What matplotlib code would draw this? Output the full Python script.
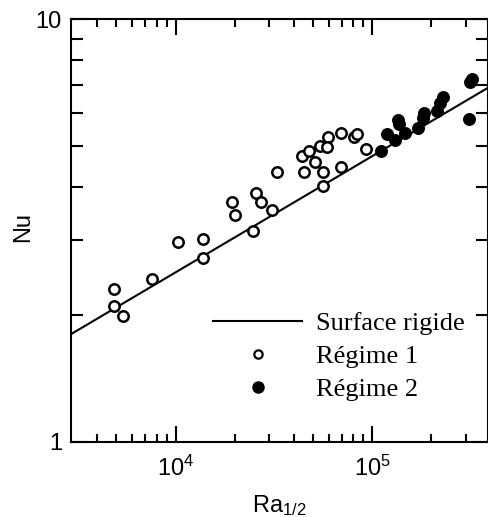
import matplotlib
matplotlib.use('Agg')
import matplotlib.pyplot as plt
import numpy as np
from matplotlib.ticker import FixedLocator, NullFormatter, LogFormatterMathtext
from matplotlib.lines import Line2D

plt.rcParams['font.family'] = ['Liberation Sans', 'DejaVu Sans']
plt.rcParams['mathtext.fontset'] = 'custom'
plt.rcParams['mathtext.rm'] = 'Liberation Sans'
plt.rcParams['mathtext.it'] = 'Liberation Sans:italic'
plt.rcParams['mathtext.bf'] = 'Liberation Sans:bold'

# Régime 1 (open circles)
ra_regime1 = [4870, 4870, 5400, 7600, 10300, 13700, 13700, 19400, 20000, 24800,
              25600, 27300, 30900, 32900, 43700, 47800, 54200, 59700, 58600, 51100,
              45100, 55900, 55900, 69300, 69300, 80700, 83900, 92900]
nu_regime1 = [2.30, 2.10, 1.98, 2.43, 2.97, 3.02, 2.72, 3.69, 3.44, 3.15,
              3.87, 3.69, 3.53, 4.34, 4.75, 4.88, 5.02, 5.26, 4.99, 4.59,
              4.36, 4.35, 4.03, 4.47, 5.39, 5.26, 5.34, 4.94]

# Régime 2 (filled circles)
ra_regime2 = [111400, 118400, 130500, 135600, 137500, 146700, 171800, 182200,
              184400, 213400, 222300, 230300, 312200, 315900, 321500]
nu_regime2 = [4.88, 5.34, 5.19, 5.79, 5.65, 5.39, 5.54, 5.84,
              6.00, 6.07, 6.33, 6.55, 5.81, 7.12, 7.22]

# Surface rigide: Nu = a * Ra^b
fit_a = 0.2
fit_b = 0.275

x_min, x_max = 2935, 3.88e5
y_min, y_max = 1, 10

x_major = [1e4, 1e5]
x_minor = [4000, 5000, 6000, 7000, 8000, 9000, 20000, 30000, 40000, 50000,
           60000, 70000, 80000, 90000, 200000, 300000]
y_major = [1, 10]
y_major_labels = ['1', '10']
y_minor = [2, 3, 4, 5, 6, 7, 8, 9]

W, H = 489, 517
fig = plt.figure(figsize=(W / 100, H / 100), dpi=100)
left, right, top, bottom = 71, 488, 19.3, 441.7
ax = fig.add_axes([left / W, 1 - bottom / H, (right - left) / W, (bottom - top) / H])
ax.set_xscale('log')
ax.set_yscale('log')
ax.set_xlim(x_min, x_max)
ax.set_ylim(y_min, y_max)

xx = np.logspace(np.log10(x_min), np.log10(x_max), 200)
ax.plot(xx, fit_a * xx ** fit_b, color='black', lw=1.5, zorder=2)
ax.plot(ra_regime1, nu_regime1, 'o', mfc='white', mec='black', ms=7.5, mew=1.8,
        ls='none', zorder=3)
ax.plot(ra_regime2, nu_regime2, 'o', mfc='black', mec='black', ms=8.5, mew=0.8,
        ls='none', zorder=4)

for s in ax.spines.values():
    s.set_linewidth(1.5)

ax.xaxis.set_major_locator(FixedLocator(x_major))
ax.xaxis.set_minor_locator(FixedLocator(x_minor))
ax.xaxis.set_major_formatter(LogFormatterMathtext())
ax.xaxis.set_minor_formatter(NullFormatter())
ax.yaxis.set_major_locator(FixedLocator(y_major))
ax.yaxis.set_minor_locator(FixedLocator(y_minor))
ax.set_yticklabels(y_major_labels)
ax.yaxis.set_minor_formatter(NullFormatter())

ax.tick_params(which='both', direction='in', top=True, right=True, width=1.5,
               labelsize=17, colors='black')
ax.tick_params(axis='x', which='major', length=11.5, pad=10)
ax.tick_params(axis='x', which='minor', length=6)
ax.tick_params(axis='y', which='major', length=11.5, pad=6.5)
ax.tick_params(axis='y', which='minor', length=8.5)

ax.set_xlabel('Ra$_{1/2}$', fontsize=17)
ax.set_ylabel('Nu', fontsize=17)
ax.xaxis.set_label_coords(0.5, (bottom - 493.3) / (bottom - top))
ax.yaxis.set_label_coords((34.5 - left) / (right - left), (bottom - 226.7) / (bottom - top))

handles = [
    Line2D([], [], color='black', lw=1.5),
    Line2D([], [], marker='o', ls='none', mfc='white', mec='black', ms=6, mew=1.6),
    Line2D([], [], marker='o', ls='none', mfc='black', mec='black', ms=8),
]
labels = ['Surface rigide', 'Régime 1', 'Régime 2']
leg = ax.legend(handles, labels, loc='upper left', frameon=False,
                bbox_to_anchor=((212.7 - left) / (right - left), (bottom - 311.5) / (bottom - top)),
                prop={'family': 'Liberation Serif', 'size': 19},
                handlelength=3.4, handletextpad=0.5, borderpad=0, borderaxespad=0,
                labelspacing=0.37)

fig.savefig('out.png', dpi=100)
